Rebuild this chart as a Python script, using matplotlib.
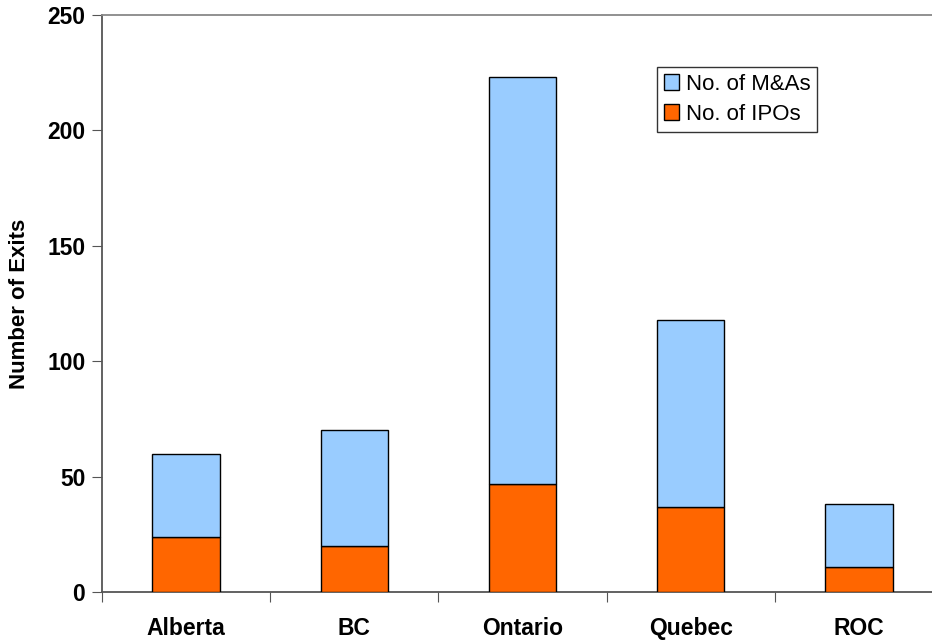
import matplotlib
matplotlib.use("Agg")
import matplotlib.pyplot as plt
import numpy as np

categories = ["Alberta", "BC", "Ontario", "Quebec", "ROC"]
ipos = [24, 20, 47, 37, 11]
mas = [36, 50, 176, 81, 27]
yticks = [0, 50, 100, 150, 200, 250]

plt.rcParams['font.family'] = ['Liberation Sans', 'DejaVu Sans']

fig = plt.figure(figsize=(9.32, 6.4), dpi=100)
ax = fig.add_axes([102/932, 48/640, 841/932, 577/640])

x = np.arange(len(categories))
w = 0.4
ax.bar(x, ipos, width=w, color="#FF6600", edgecolor="black", linewidth=1.0, label="No. of IPOs", zorder=3)
ax.bar(x, mas, width=w, bottom=ipos, color="#99CCFF", edgecolor="black", linewidth=1.0, label="No. of M&As", zorder=3)

ax.set_xlim(-0.5, len(categories) - 0.5)
ax.set_ylim(0, 250)
ax.set_yticks(yticks)
ax.set_yticklabels([str(t) for t in yticks], fontsize=16.5, fontweight="bold")

ax.set_xticks(np.arange(len(categories) + 1) - 0.5)
ax.set_xticklabels([])
ax.set_xticks(x, minor=True)
ax.set_xticklabels(categories, minor=True, fontsize=16.5, fontweight="bold")
ax.tick_params(axis="x", which="minor", length=0, pad=18)
ax.tick_params(axis="x", which="major", length=7, direction="out", color="#555555")
ax.tick_params(axis="y", length=7, direction="out", color="#555555", pad=5)

for s in ["left", "bottom"]:
    ax.spines[s].set_color("#555555")
    ax.spines[s].set_linewidth(1.3)
ax.spines["top"].set_color("#888888")
ax.spines["top"].set_linewidth(1.3)
ax.spines["right"].set_visible(False)

ax.set_ylabel("Number of Exits", fontsize=16, fontweight="bold", labelpad=12)

handles, labels = ax.get_legend_handles_labels()
leg = ax.legend(handles[::-1], labels[::-1], loc="upper left",
                bbox_to_anchor=(657/932, 1 - 67/640), bbox_transform=fig.transFigure,
                fontsize=16, frameon=True, fancybox=False, edgecolor="black",
                handlelength=0.7, handleheight=0.7, handletextpad=0.3,
                borderpad=0.3, labelspacing=0.42, borderaxespad=0)
leg.get_frame().set_linewidth(1.0)

fig.savefig("out.png", dpi=100)
